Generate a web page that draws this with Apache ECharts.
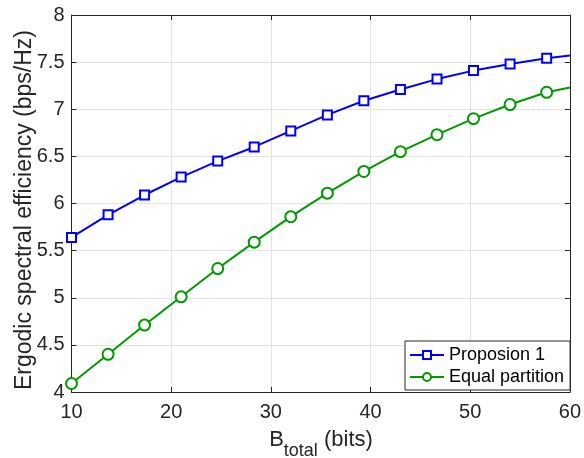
<!DOCTYPE html>
<html>
<head>
<meta charset="utf-8">
<script src="https://cdn.jsdelivr.net/npm/echarts@6/dist/echarts.min.js"></script>
<style>
html,body{margin:0;padding:0;background:#fff;}
#chart{width:584px;height:458px;}
</style>
</head>
<body>
<div id="chart"></div>
<script>
var xValues = [10, 13.67, 17.33, 21, 24.67, 28.33, 32, 35.67, 39.33, 43, 46.67, 50.33, 54, 57.67, 60];
var proposionValues = [5.64, 5.88, 6.09, 6.28, 6.45, 6.60, 6.77, 6.94, 7.09, 7.21, 7.32, 7.41, 7.48, 7.54, 7.57];
var equalValues = [4.09, 4.40, 4.71, 5.01, 5.31, 5.59, 5.86, 6.11, 6.34, 6.55, 6.73, 6.90, 7.05, 7.18, 7.23];
var seriesNames = ['Proposion 1', 'Equal partition'];
var xTicks = [10, 20, 30, 40, 50, 60];
var yTicks = [4, 4.5, 5, 5.5, 6, 6.5, 7, 7.5, 8];

var BLUE = '#0000ff', GREEN = '#009900', AX = '#262626', GRID = '#e3e3e3';
var FONT = '"Liberation Sans", Arial, Helvetica, sans-serif';

function build(vals) {
  return vals.map(function (v, i) {
    var d = { value: [xValues[i], v] };
    if (i === vals.length - 1) d.symbol = 'none';
    return d;
  });
}

// measure text widths to lay out the subscripted x-axis title
var cv = document.createElement('canvas').getContext('2d');
function tw(t, size) { cv.font = size + 'px ' + FONT; return cv.measureText(t).width; }
var wB = tw('B', 22), wSub = tw('total', 18), wRest = tw(' (bits)', 22);
var titleStart = 321 - (wB + wSub + wRest) / 2;

var chart = echarts.init(document.getElementById('chart'), null, { renderer: 'canvas' });
var axisCommon = {
  axisLine: { show: true, onZero: false, lineStyle: { color: AX, width: 1 } },
  axisTick: { show: true, inside: true, length: 5, lineStyle: { color: AX, width: 1 } }
};
chart.setOption({
  animation: false,
  backgroundColor: '#fff',
  textStyle: { fontFamily: FONT },
  grid: { left: 71.5, right: 13, top: 15, bottom: 66, containLabel: false },
  xAxis: [
    Object.assign({
      type: 'value', min: xTicks[0], max: xTicks[xTicks.length - 1], interval: 10,
      axisLabel: { color: AX, fontSize: 20, margin: 10, fontFamily: FONT },
      splitLine: { show: true, lineStyle: { color: GRID, width: 1 } }
    }, axisCommon),
    Object.assign({
      type: 'value', position: 'top', min: xTicks[0], max: xTicks[xTicks.length - 1], interval: 10,
      axisLabel: { show: false }, splitLine: { show: false }
    }, axisCommon)
  ],
  yAxis: [
    Object.assign({
      type: 'value', min: yTicks[0], max: yTicks[yTicks.length - 1], interval: 0.5,
      axisLabel: { color: AX, fontSize: 20, margin: 7, fontFamily: FONT },
      splitLine: { show: true, lineStyle: { color: GRID, width: 1 } }
    }, axisCommon),
    Object.assign({
      type: 'value', position: 'right', min: yTicks[0], max: yTicks[yTicks.length - 1], interval: 0.5,
      axisLabel: { show: false }, splitLine: { show: false }
    }, axisCommon)
  ],
  legend: {
    left: 405, top: 341, orient: 'vertical',
    data: seriesNames,
    backgroundColor: '#fff', borderColor: AX, borderWidth: 1,
    padding: [5, 6, 4, 4], itemGap: 4, itemWidth: 34, itemHeight: 10,
    textStyle: { fontSize: 18, color: '#000', fontFamily: FONT }
  },
  series: [
    {
      name: seriesNames[0], type: 'line', data: build(proposionValues),
      symbol: 'rect', symbolSize: 9, showAllSymbol: true,
      lineStyle: { color: BLUE, width: 2 },
      itemStyle: { color: '#fff', borderColor: BLUE, borderWidth: 2 },
      z: 3
    },
    {
      name: seriesNames[1], type: 'line', data: build(equalValues),
      symbol: 'circle', symbolSize: 11, showAllSymbol: true,
      lineStyle: { color: GREEN, width: 2 },
      itemStyle: { color: '#fff', borderColor: GREEN, borderWidth: 2 },
      z: 2
    }
  ],
  graphic: [
    {
      type: 'text', x: titleStart, y: 440,
      style: { text: 'B', align: 'left', verticalAlign: 'middle', fill: AX, fontSize: 22, fontFamily: FONT }
    },
    {
      type: 'text', x: titleStart + wB, y: 451,
      style: { text: 'total', align: 'left', verticalAlign: 'middle', fill: AX, fontSize: 18, fontFamily: FONT }
    },
    {
      type: 'text', x: titleStart + wB + wSub, y: 440,
      style: { text: ' (bits)', align: 'left', verticalAlign: 'middle', fill: AX, fontSize: 22, fontFamily: FONT }
    },
    {
      type: 'text', x: 25, y: 210, rotation: Math.PI / 2,
      style: {
        text: 'Ergodic spectral efficiency (bps/Hz)',
        align: 'center', verticalAlign: 'middle',
        fill: AX, fontSize: 23, fontFamily: FONT
      }
    }
  ]
});
</script>
</body>
</html>
